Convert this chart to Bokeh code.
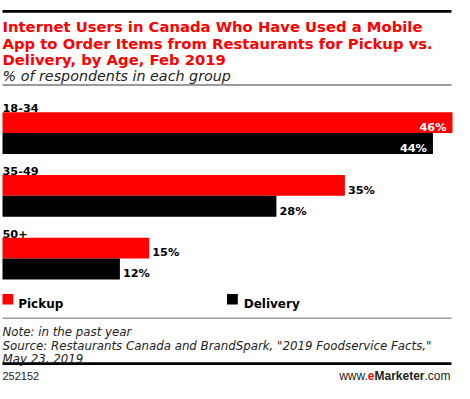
from bokeh.plotting import figure
from bokeh.models import Range1d, ColumnDataSource
from bokeh.core.properties import value
from bokeh.embed import file_html
from bokeh.resources import INLINE

# ---------------- data ----------------
groups = ["18-34", "35-49", "50+"]
series = ["Pickup", "Delivery"]
pickup = [46, 35, 15]
delivery = [44, 28, 12]
title_lines = [
    "Internet Users in Canada Who Have Used a Mobile",
    "App to Order Items from Restaurants for Pickup vs.",
    "Delivery, by Age, Feb 2019",
]
subtitle = "% of respondents in each group"
note_lines = [
    "Note: in the past year",
    'Source: Restaurants Canada and BrandSpark, "2019 Foodservice Facts,"',
    "May 23, 2019",
]
chart_id = "252152"
brand_parts = ["www.", "e", "Marketer", ".com"]

# ---------------- layout helpers ----------------
W, H = 454, 383
RED = "#ff0000"
BLACK = "#000000"
GREY = "#9a9a9a"
SANS = value("DejaVu Sans")
ARIAL = value("Liberation Sans")
SX = 450.0 / 459.0
SY = 378.0 / 392.0


def X(r):
    return 2 + (r - 6) * SX


def Y(r):
    return 2 + (r - 2) * SY


p = figure(width=W, height=H, x_range=Range1d(0, W), y_range=Range1d(H, 0),
           title=None, toolbar_location=None, output_backend="svg",
           x_axis_location=None, y_axis_location=None,
           min_border=0, min_border_left=0, min_border_right=0,
           min_border_top=0, min_border_bottom=0)
# value scale: 0 at the left edge of the bars, 46% at the right end
x0_px, x46_px = X(6), X(465)
span = max(pickup) * W / (x46_px - x0_px)
val_start = -x0_px / (x46_px - x0_px) * max(pickup)
p.extra_x_ranges = {"val": Range1d(val_start, val_start + span)}
p.grid.visible = False
p.outline_line_color = None
p.background_fill_color = "white"
p.border_fill_color = "white"

# rules (top black, grey under subtitle, grey under legend, black above footer)
for y_top, y_bot, col in ((9.8, 12.6, BLACK), (86.5, 88.5, GREY),
                          (328.7, 330.3, GREY), (375.0, 378.0, BLACK)):
    p.quad(left=[X(6)], right=[X(464)], top=[Y(y_top)], bottom=[Y(y_bot)],
           fill_color=col, line_color=None)

# title & subtitle
p.text(x=[X(6)] * len(title_lines), y=[Y(27.2), Y(44.4), Y(61.6)], text=title_lines,
       text_font=SANS, text_font_style="bold", text_font_size="14.8px",
       text_color=RED, text_baseline="alphabetic", text_align="left")
p.text(x=[X(6)], y=[Y(78.3)], text=[subtitle], text_font=SANS,
       text_font_style="italic", text_font_size="14.3px", text_color="#222222",
       text_baseline="alphabetic", text_align="left")

# bars
band = 21.7
top0 = 94.0
band_px = band * SY
ys_p, ys_d, ys_lab = [], [], []
for i in range(len(groups)):
    gt = top0 + 3 * band * i
    ys_lab.append(Y(gt + band - 4))
    ys_p.append(Y(gt + 1.5 * band))
    ys_d.append(Y(gt + 2.5 * band))

p.text(x=[X(6)] * len(groups), y=ys_lab, text=groups, text_font=SANS,
       text_font_style="bold", text_font_size="11.3px", text_color=BLACK,
       text_baseline="alphabetic", text_align="left")

src_p = ColumnDataSource(dict(y=ys_p, v=pickup))
src_d = ColumnDataSource(dict(y=ys_d, v=delivery))
p.hbar(y="y", left=0, right="v", height=band_px, source=src_p,
       x_range_name="val", fill_color=RED, line_color=None)
p.hbar(y="y", left=0, right="v", height=band_px, source=src_d,
       x_range_name="val", fill_color=BLACK, line_color=None)

# value labels
vmax = max(pickup + delivery)
ins = dict(x=[], y=[], t=[])
outs = dict(x=[], y=[], t=[])
for vals, ys in ((pickup, ys_p), (delivery, ys_d)):
    for v, yc in zip(vals, ys):
        d = ins if v / vmax > 0.85 else outs
        d["x"].append(v)
        d["y"].append(yc + 5 * SY)
        d["t"].append(f"{v}%")

p.text(x="x", y="y", text="t", source=ColumnDataSource(ins), x_range_name="val",
       x_offset=-6, text_font=SANS, text_font_style="bold", text_font_size="11.3px",
       text_color="white", text_align="right", text_baseline="alphabetic")
p.text(x="x", y="y", text="t", source=ColumnDataSource(outs), x_range_name="val",
       x_offset=3, text_font=SANS, text_font_style="bold", text_font_size="11.3px",
       text_color=BLACK, text_align="left", text_baseline="alphabetic")

# legend
p.rect(x=[X(11.5), X(240.5)], y=[Y(309.8)] * 2, width=11 * SX, height=11 * SY,
       fill_color=[RED, BLACK], line_color=None)
p.text(x=[X(22), X(252)], y=[Y(315)] * 2, text=series, text_font=SANS,
       text_font_style="bold", text_font_size="12px", text_color=BLACK,
       text_baseline="alphabetic", text_align="left")

# notes
p.text(x=[X(6)] * len(note_lines), y=[Y(344), Y(358), Y(371.5)], text=note_lines,
       text_font=SANS, text_font_style="italic", text_font_size="11.8px",
       text_color="#222222", text_baseline="alphabetic", text_align="left")

# footer
fy = Y(389.0)
p.text(x=[X(6)], y=[fy], text=[chart_id], text_font=ARIAL,
       text_font_size="11px", text_color="#222222", text_baseline="alphabetic",
       text_align="left")
fs = 12
w_com = 2.167 * fs
w_mark = 4.168 * fs
w_e = 0.556 * fs
xr = X(463)
p.text(x=[xr], y=[fy], text=[brand_parts[3]], text_font=ARIAL,
       text_font_size=f"{fs}px", text_color="#222222", text_align="right",
       text_baseline="alphabetic")
p.text(x=[xr - w_com], y=[fy], text=[brand_parts[2]], text_font=ARIAL,
       text_font_style="bold", text_font_size=f"{fs}px", text_color="#222222",
       text_align="right", text_baseline="alphabetic")
p.text(x=[xr - w_com - w_mark], y=[fy], text=[brand_parts[1]], text_font=ARIAL,
       text_font_style="bold", text_font_size=f"{fs}px", text_color=RED,
       text_align="right", text_baseline="alphabetic")
p.text(x=[xr - w_com - w_mark - w_e], y=[fy], text=[brand_parts[0]],
       text_font=ARIAL, text_font_size=f"{fs}px", text_color="#222222",
       text_align="right", text_baseline="alphabetic")

open("out.html", "w").write(file_html(p, INLINE))
